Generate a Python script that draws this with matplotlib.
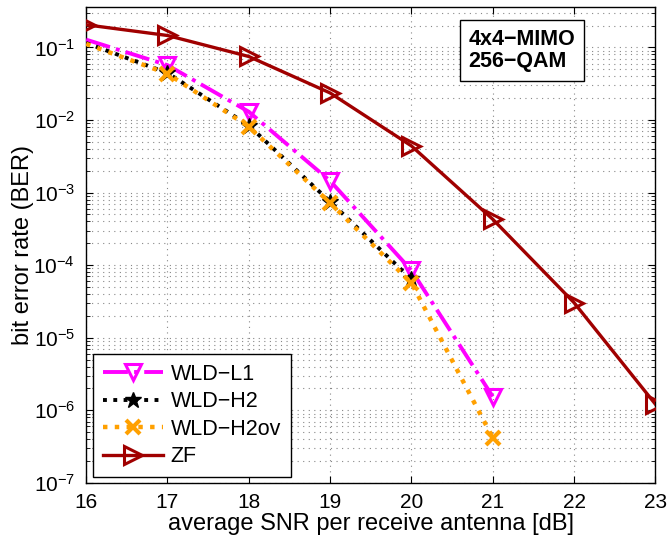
import matplotlib
matplotlib.use("Agg")
import matplotlib.pyplot as plt
from matplotlib.ticker import LogLocator, LogFormatterMathtext, NullFormatter, FixedLocator

plt.rcParams['font.family'] = ['Liberation Sans', 'DejaVu Sans']
plt.rcParams['mathtext.fontset'] = 'custom'
plt.rcParams['mathtext.rm'] = 'Liberation Sans'
plt.rcParams['mathtext.default'] = 'regular'

snr = [16, 17, 18, 19, 20, 21, 22, 23]
snr_wld = [16, 17, 18, 19, 20, 21]
snr_h2 = [16, 17, 18, 19, 20]

ber_l1 = [0.128, 0.057, 0.013, 1.45e-3, 8.5e-5, 1.55e-6]
ber_h2 = [0.115, 0.0445, 8.4e-3, 7.5e-4, 6.4e-5]
ber_h2ov = [0.112, 0.0435, 8.1e-3, 7.2e-4, 5.7e-5, 4.2e-7]
ber_zf = [0.205, 0.146, 0.075, 0.0236, 4.4e-3, 4.3e-4, 3.05e-5, 1.22e-6]

labels = ['WLD\u2212L1', 'WLD\u2212H2', 'WLD\u2212H2ov', 'ZF']
xticks = [16, 17, 18, 19, 20, 21, 22, 23]

fig = plt.figure(figsize=(6.68, 5.42), dpi=100)
ax = fig.add_axes([0.129, 0.109, 0.852, 0.878])

ax.semilogy(snr_wld, ber_l1, linestyle='-.', color='#ff00ff', lw=2.8,
            marker='v', ms=11, mfc='none', mec='#ff00ff', mew=2.2,
            markevery=[1, 2, 3, 4, 5], label=labels[0], zorder=3)
ax.semilogy(snr_h2, ber_h2, linestyle=':', color='black', lw=2.8,
            marker='*', ms=12, mfc='black', mec='black',
            markevery=[1, 2, 3, 4], label=labels[1], zorder=4)
ax.semilogy(snr_wld, ber_h2ov, linestyle=':', color='#ffa000', lw=3.2,
            marker='x', ms=10, mec='#ffa000', mew=3,
            markevery=[1, 2, 3, 4, 5], label=labels[2], zorder=5)
ax.semilogy(snr, ber_zf, linestyle='-', color='#a00000', lw=2.4,
            marker='>', ms=13, mfc='none', mec='#a00000', mew=2.2,
            label=labels[3], zorder=6)

ax.set_xlim(16, 23)
ax.set_ylim(1e-7, 0.36)
ax.xaxis.set_major_locator(FixedLocator(xticks))
ax.yaxis.set_major_locator(LogLocator(base=10, numticks=20))
ax.yaxis.set_minor_locator(LogLocator(base=10, subs=range(2, 10), numticks=20))
ax.yaxis.set_major_formatter(LogFormatterMathtext())
ax.yaxis.set_minor_formatter(NullFormatter())

ax.tick_params(which='both', direction='in', top=True, right=True)
ax.tick_params(axis='x', which='major', labelsize=15, pad=7)
ax.tick_params(axis='y', which='major', labelsize=15, pad=8)
ax.tick_params(which='major', length=5)
ax.tick_params(which='minor', length=3)

ax.grid(True, which='major', axis='both', linestyle=(0, (1, 4)), color='#888888', lw=0.8)
ax.grid(True, which='minor', axis='y', linestyle=(0, (1, 4)), color='#888888', lw=0.8)
ax.set_axisbelow(True)

for s in ax.spines.values():
    s.set_linewidth(1.0)

ax.set_xlabel('average SNR per receive antenna [dB]', fontsize=17, labelpad=1)
ax.set_ylabel('bit error rate (BER)', fontsize=17)
ax.yaxis.set_label_coords(-0.092, 0.5)

leg = ax.legend(loc='lower left', fontsize=15.5, fancybox=False, framealpha=1,
                edgecolor='black', handlelength=2.8, handletextpad=0.35,
                borderpad=0.45, labelspacing=0.3, borderaxespad=0,
                bbox_to_anchor=(0.0123, 0.0126))
leg.get_frame().set_linewidth(1.0)

ax.text(0.672, 0.909, '4x4\u2212MIMO\n256\u2212QAM', transform=ax.transAxes,
        fontsize=15.5, fontweight='bold', ha='left', va='center',
        linespacing=1.1,
        bbox=dict(boxstyle='square,pad=0.4', fc='white', ec='black', lw=1.0))

fig.savefig('out.png', dpi=100)
